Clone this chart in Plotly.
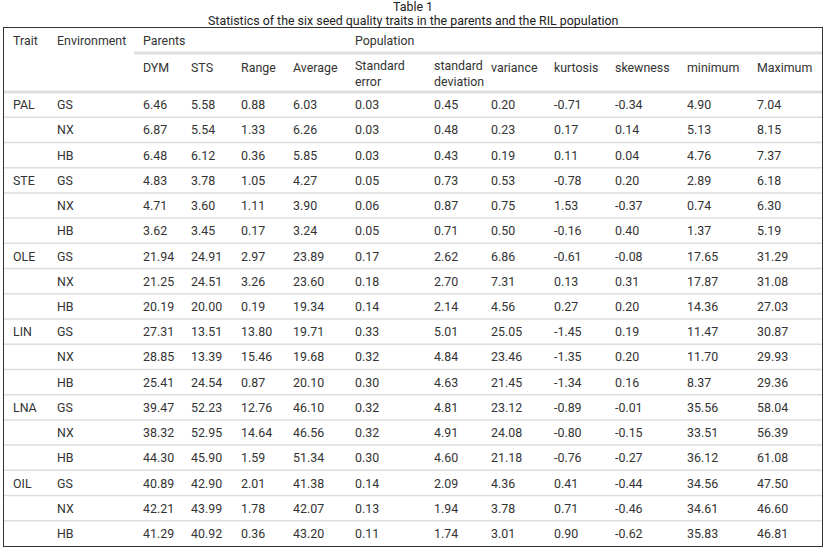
import plotly.graph_objects as go

# ---- data ----
traits = ["PAL", "STE", "OLE", "LIN", "LNA", "OIL"]
environments = ["GS", "NX", "HB"]

dym = [6.46, 6.87, 6.48, 4.83, 4.71, 3.62, 21.94, 21.25, 20.19,
       27.31, 28.85, 25.41, 39.47, 38.32, 44.30, 40.89, 42.21, 41.29]
sts = [5.58, 5.54, 6.12, 3.78, 3.60, 3.45, 24.91, 24.51, 20.00,
       13.51, 13.39, 24.54, 52.23, 52.95, 45.90, 42.90, 43.99, 40.92]
rng = [0.88, 1.33, 0.36, 1.05, 1.11, 0.17, 2.97, 3.26, 0.19,
       13.80, 15.46, 0.87, 12.76, 14.64, 1.59, 2.01, 1.78, 0.36]
average = [6.03, 6.26, 5.85, 4.27, 3.90, 3.24, 23.89, 23.60, 19.34,
           19.71, 19.68, 20.10, 46.10, 46.56, 51.34, 41.38, 42.07, 43.20]
std_error = [0.03, 0.03, 0.03, 0.05, 0.06, 0.05, 0.17, 0.18, 0.14,
             0.33, 0.32, 0.30, 0.32, 0.32, 0.30, 0.14, 0.13, 0.11]
std_dev = [0.45, 0.48, 0.43, 0.73, 0.87, 0.71, 2.62, 2.70, 2.14,
           5.01, 4.84, 4.63, 4.81, 4.91, 4.60, 2.09, 1.94, 1.74]
variance = [0.20, 0.23, 0.19, 0.53, 0.75, 0.50, 6.86, 7.31, 4.56,
            25.05, 23.46, 21.45, 23.12, 24.08, 21.18, 4.36, 3.78, 3.01]
kurtosis = [-0.71, 0.17, 0.11, -0.78, 1.53, -0.16, -0.61, 0.13, 0.27,
            -1.45, -1.35, -1.34, -0.89, -0.80, -0.76, 0.41, 0.71, 0.90]
skewness = [-0.34, 0.14, 0.04, 0.20, -0.37, 0.40, -0.08, 0.31, 0.20,
            0.19, 0.20, 0.16, -0.01, -0.15, -0.27, -0.44, -0.46, -0.62]
minimum = [4.90, 5.13, 4.76, 2.89, 0.74, 1.37, 17.65, 17.87, 14.36,
           11.47, 11.70, 8.37, 35.56, 33.51, 36.12, 34.56, 34.61, 35.83]
maximum = [7.04, 8.15, 7.37, 6.18, 6.30, 5.19, 31.29, 31.08, 27.03,
           30.87, 29.93, 29.36, 58.04, 56.39, 61.08, 47.50, 46.60, 46.81]

header_top = ["Trait", "Environment", "Parents", "", "", "", "Population",
              "", "", "", "", "", ""]
header_sub = ["", "", "DYM", "STS", "Range", "Average", "Standard<br>error",
              "standard<br>deviation", "variance", "kurtosis", "skewness",
              "minimum", "Maximum"]

title = "Table 1"
subtitle = "Statistics of the six seed quality traits in the parents and the RIL population"

# ---- layout constants (pixels) ----
W, H = 827, 549
M_L, M_R, M_T, M_B = 4, 5, 28, 3
col_widths = [44, 86, 48, 50, 52, 62, 79, 57, 63, 61, 72, 70, 74]
pad = 9
top_h, sub_h, row_h = 25, 39, 25.22
nudge = 1.5  # text baseline correction
TEXT = "#333333"
GRID = "#dedede"
FONT = "Roboto"
FSIZE = 12.4

col_start = [sum(col_widths[:i]) for i in range(len(col_widths))]
col_x = [s + pad for s in col_start]
total_w = sum(col_widths)

value_columns = [dym, sts, rng, average, std_error, std_dev, variance,
                 kurtosis, skewness, minimum, maximum]
trait_col = [t if j == 0 else "" for t in traits for j in range(len(environments))]
env_col = [e for _ in traits for e in environments]
n_rows = len(env_col)
body_top = top_h + sub_h
row_y = [body_top + (i + 0.5) * row_h + nudge for i in range(n_rows)]
total_h = body_top + n_rows * row_h

columns_text = [trait_col, env_col] + [[f"{v:.2f}" for v in col] for col in value_columns]

fig = go.Figure()

font = dict(family=FONT, size=FSIZE, color=TEXT)


def add_text(xs, ys, texts):
    fig.add_trace(go.Scatter(x=xs, y=ys, text=texts, mode="text",
                             textposition="middle right", textfont=font,
                             hoverinfo="skip", showlegend=False, cliponaxis=False))


for c, texts in enumerate(columns_text):
    add_text([col_x[c]] * n_rows, row_y, texts)

add_text(col_x, [top_h / 2 + nudge] * len(col_x), header_top)
sub_y = [top_h + (20 if "<br>" in t else 14) + nudge for t in header_sub]
add_text(col_x, sub_y, header_sub)

# horizontal rules
shapes = []
for i in range(1, n_rows):
    y = body_top + i * row_h
    shapes.append(dict(type="line", xref="x", yref="y", x0=-1, x1=total_w + 1,
                       y0=y, y1=y, line=dict(color=GRID, width=1.5), layer="above"))
shapes.append(dict(type="line", xref="x", yref="y", x0=-1, x1=total_w + 1,
                   y0=body_top, y1=body_top, line=dict(color=GRID, width=3), layer="above"))
shapes.append(dict(type="line", xref="x", yref="y", x0=col_start[2], x1=total_w,
                   y0=top_h, y1=top_h, line=dict(color=GRID, width=3), layer="above"))

plot_h = H - M_T - M_B
fig.update_layout(
    width=W, height=H, autosize=False,
    margin=dict(l=M_L, r=M_R, t=M_T, b=M_B),
    plot_bgcolor="white", paper_bgcolor="white",
    shapes=shapes,
    annotations=[
        dict(text=title, x=0.5, xref="paper", y=1 + (M_T - 7) / plot_h, yref="paper",
             yanchor="middle", showarrow=False,
             font=dict(family=FONT, size=FSIZE, color="#222222")),
        dict(text=subtitle, x=0.5, xref="paper", y=1 + (M_T - 20) / plot_h, yref="paper",
             yanchor="middle", showarrow=False,
             font=dict(family=FONT, size=FSIZE, color="#222222")),
    ],
)
fig.update_xaxes(range=[0, total_w], showgrid=False, zeroline=False, showticklabels=False,
                 showline=True, mirror=True, linecolor="#333333", linewidth=1, ticks="")
fig.update_yaxes(range=[total_h, 0], showgrid=False, zeroline=False, showticklabels=False,
                 showline=True, mirror=True, linecolor="#333333", linewidth=1, ticks="")

fig.write_html("out.html", config={"displayModeBar": False},
               post_script="document.body.style.margin='0px';")
